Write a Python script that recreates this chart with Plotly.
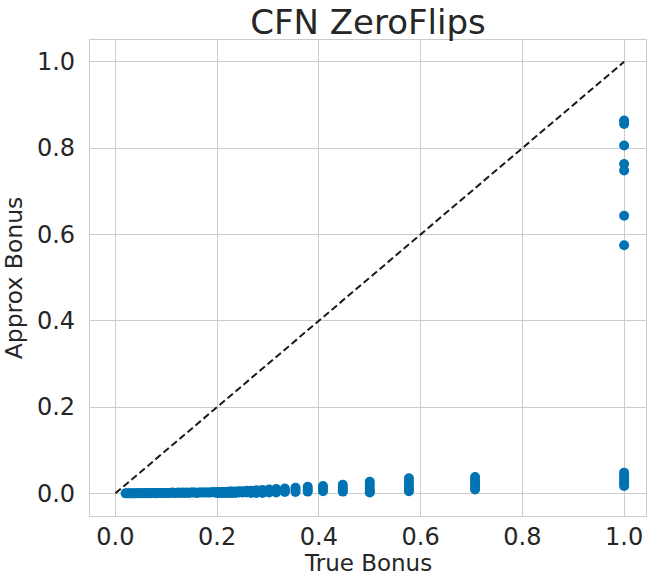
import plotly.graph_objects as go

# Discrete "true bonus" columns and the approx-bonus values read at each
column_x = [1.0, 1.0, 0.707, 0.577, 0.5, 0.447, 0.408, 0.378, 0.354, 0.333,
            0.316, 0.302, 0.289, 0.277, 0.267, 0.258, 0.250, 0.243, 0.236,
            0.229, 0.224, 0.218, 0.213, 0.209, 0.204, 0.200]
column_y = [
    [0.864, 0.856, 0.806, 0.763, 0.748, 0.643, 0.575],
    [0.048, 0.042, 0.035, 0.028, 0.022, 0.017],
    [0.038, 0.030, 0.022, 0.015, 0.009],
    [0.035, 0.026, 0.018, 0.011, 0.005],
    [0.027, 0.019, 0.011, 0.004, 0.002],
    [0.020, 0.013, 0.007, 0.004],
    [0.017, 0.011, 0.005],
    [0.015, 0.009, 0.004],
    [0.013, 0.008, 0.003],
    [0.011, 0.006, 0.003],
    [0.010, 0.005, 0.002],
    [0.009, 0.004, 0.002],
    [0.008, 0.004, 0.001],
    [0.007, 0.003, 0.001],
    [0.006, 0.003, 0.001],
    [0.006, 0.002],
    [0.005, 0.002],
    [0.005, 0.002],
    [0.004, 0.001],
    [0.004, 0.001],
    [0.004, 0.001],
    [0.003, 0.001],
    [0.003, 0.001],
    [0.003, 0.001],
    [0.003, 0.001],
    [0.003, 0.001],
]

# Dense band of small true-bonus values
band_x = [0.020, 0.024, 0.028, 0.032, 0.036, 0.040, 0.044, 0.048, 0.052, 0.056,
          0.060, 0.064, 0.068, 0.072, 0.076, 0.080, 0.084, 0.088, 0.092, 0.096,
          0.100, 0.104, 0.108, 0.112, 0.116, 0.120, 0.124, 0.128, 0.132, 0.136,
          0.140, 0.144, 0.148, 0.152, 0.156, 0.160, 0.164, 0.168, 0.172, 0.176,
          0.180, 0.184, 0.188, 0.192, 0.196]
band_y = [0.000, 0.000, 0.000, 0.000, 0.000, 0.000, 0.000, 0.001, 0.000, 0.001,
          0.000, 0.001, 0.000, 0.001, 0.001, 0.000, 0.001, 0.001, 0.001, 0.001,
          0.001, 0.001, 0.001, 0.002, 0.001, 0.001, 0.002, 0.001, 0.002, 0.001,
          0.002, 0.001, 0.002, 0.002, 0.002, 0.001, 0.002, 0.002, 0.002, 0.002,
          0.002, 0.002, 0.002, 0.003, 0.002]

diag = [0.0, 1.0]
x_ticks = [0.0, 0.2, 0.4, 0.6, 0.8, 1.0]
y_ticks = [0.0, 0.2, 0.4, 0.6, 0.8, 1.0]

xs, ys = [], []
for cx, cys in zip(column_x, column_y):
    for v in cys:
        xs.append(cx)
        ys.append(v)
xs += band_x
ys += band_y

FONT = "DejaVu Sans"
GRID = "#cccccc"
TXT = "#262626"

fig = go.Figure()
fig.add_trace(go.Scatter(
    x=xs, y=ys, mode="markers",
    marker=dict(color="#0173b2", size=10, line=dict(width=0)),
    showlegend=False, hoverinfo="skip"))
fig.add_trace(go.Scatter(
    x=diag, y=diag, mode="lines",
    line=dict(color="#1a1a1a", width=2, dash="7px,3.5px"),
    showlegend=False, hoverinfo="skip"))

fig.update_layout(
    width=647, height=578,
    margin=dict(l=90, r=1, t=40, b=62),
    paper_bgcolor="white", plot_bgcolor="white",
    font=dict(family=FONT, color=TXT, size=24),
    title=dict(text="CFN ZeroFlips", x=368 / 647, xanchor="center",
               y=1 - 22 / 578, yanchor="middle",
               font=dict(size=34, family=FONT, color=TXT)),
    annotations=[dict(
        text="True Bonus", xref="paper", yref="paper", x=0.5, y=-0.099,
        xanchor="center", yanchor="middle", showarrow=False,
        font=dict(size=23, family=FONT, color=TXT))],
)
fig.update_xaxes(
    range=[-0.05, 1.043], tickvals=x_ticks, ticktext=[f"{t:.1f}" for t in x_ticks],
    showgrid=True, gridcolor=GRID, gridwidth=1.3, zeroline=False,
    showline=True, linecolor=GRID, linewidth=1.3, mirror=True,
    ticks="outside", ticklen=0, tickcolor="rgba(0,0,0,0)",
    ticklabelstandoff=-1,
    tickfont=dict(size=24, family=FONT, color=TXT),
)
fig.update_yaxes(
    range=[-0.0525, 1.0504], tickvals=y_ticks, ticktext=[f"{t:.1f}" for t in y_ticks],
    showgrid=True, gridcolor=GRID, gridwidth=1.3, zeroline=False,
    showline=True, linecolor=GRID, linewidth=1.3, mirror=True,
    ticks="outside", ticklen=9, tickcolor="rgba(0,0,0,0)",
    tickfont=dict(size=24, family=FONT, color=TXT),
    title=dict(text="Approx Bonus", font=dict(size=23.5, family=FONT, color=TXT), standoff=8),
)

fig.write_html(
    "out.html",
    config={"displayModeBar": False},
    post_script="document.body.style.margin='0';document.body.style.overflow='hidden';",
)
